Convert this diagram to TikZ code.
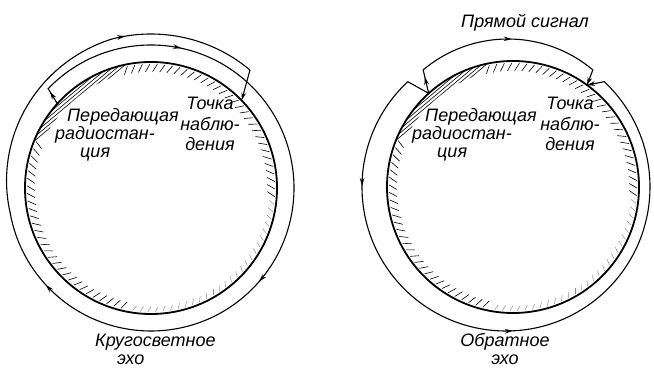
\documentclass[tikz,border=0pt]{standalone}
\usepackage{fontspec}
\setmainfont{Liberation Sans}
\usetikzlibrary{arrows.meta,decorations.markings,calc}
\tikzset{
  earth/.style={line width=1.8pt},
  ray/.style={line width=1.1pt, line cap=round, line join=round},
  hatchtick/.style={line width=0.6pt},
  fainttick/.style={line width=0.5pt, draw=black!45},
  lbl/.style={font=\fontsize{18}{18}\selectfont\itshape, inner sep=0pt},
  tip/.style={-{Stealth[length=8pt,width=4.6pt]}},
  midarrow/.style={
    postaction={decorate, decoration={markings,
      mark=at position #1 with {\arrow{Stealth[length=8pt,width=4.6pt]}}}}
  }
}

\begin{document}
\begin{tikzpicture}[x=1pt, y=1pt]
\useasboundingbox (0,0) rectangle (654,369);

% ---- Both globes: rim, hatching near the rim ----
\foreach \cx/\cy in {151/181, 513/182}{
  \begin{scope}[shift={(\cx,\cy)}]
    \begin{scope}[even odd rule]
      \clip (0,0) circle (125.5) (5,-7) circle (125.5);
      \foreach \s in {111,114,...,126}
        \draw[hatchtick] (130:\s) ++(40:140) -- ++(220:280);
    \end{scope}
    \foreach \a in {158,161.5,...,258, 356,359.5,...,464}
      \draw[hatchtick] (\a:124) -- ++(\a+150:9);
    \foreach \a in {261.5,265,...,354}
      \draw[fainttick] (\a:124) -- ++(\a+150:6);
    \draw[earth] (0,0) circle (126);
  \end{scope}
}

% ---- Left: round-the-world echo ----
\begin{scope}[shift={(151,181)}]
  \coordinate (tx1) at (138:126);
  \coordinate (obs1) at (44:126);
  \draw[ray, midarrow=0.8] (tx1) -- (136:143) coordinate (up1);
  \draw[ray, midarrow=0.19, midarrow=0.578, midarrow=0.893]
    (up1) arc[start angle=136, end angle=-170, radius=143];
  \draw[ray] plot[domain=-170:-255, samples=40] (\x:{143+11*(-170-\x)/85});
  \draw[ray, tip, midarrow=0.08]
    (-255:154) arc[start angle=-255, end angle=-310, radius=154] -- (obs1);
\end{scope}

% ---- Right: direct signal and back echo ----
\begin{scope}[shift={(513,182)}]
  \coordinate (tx2) at (132:126);
  \coordinate (obs2) at (54:126);
  \draw[ray, midarrow=0.7] (tx2) -- ($(-5,16)+(130:132)$) coordinate (up2);
  \draw[ray, midarrow=0.52]
    (up2) arc[start angle=130, end angle=50, radius=132] coordinate (dn2);
  \draw[ray, tip] (dn2) -- (obs2);
  \draw[ray] (tx2) -- ($(-7,0)+(133:144)$) coordinate (bk2);
  \draw[ray, midarrow=0.17, midarrow=0.51]
    (bk2) arc[start angle=133, end angle=407, radius=144] coordinate (rc2);
  \draw[ray, tip] (rc2) -- (obs2);
\end{scope}

% ---- Labels ----
\node[lbl, align=left, anchor=west] (tx1lbl) at (55,234)
  {\hspace{12pt}Передающая\\радиостан-\\\hspace{25pt}ция};
\node[lbl, align=center] (obs1lbl) at (210,245)
  {Точка\\[2.5pt]наблю-\\[2.5pt]дения};
\node[lbl, align=left, anchor=west] (echo1lbl) at (95,20)
  {Кругосветное\\\hspace{22pt}эхо};

\node[lbl] (direct2lbl) at (525,346) {Прямой сигнал};
\node[lbl, align=left, anchor=west] (tx2lbl) at (412,234)
  {\hspace{13pt}Передающая\\радиостан-\\\hspace{25pt}ция};
\node[lbl, align=center] (obs2lbl) at (570,245)
  {Точка\\[2.5pt]наблю-\\[2.5pt]дения};
\node[lbl, align=center] (echo2lbl) at (505,20) {Обратное\\эхо};

\end{tikzpicture}
\end{document}
